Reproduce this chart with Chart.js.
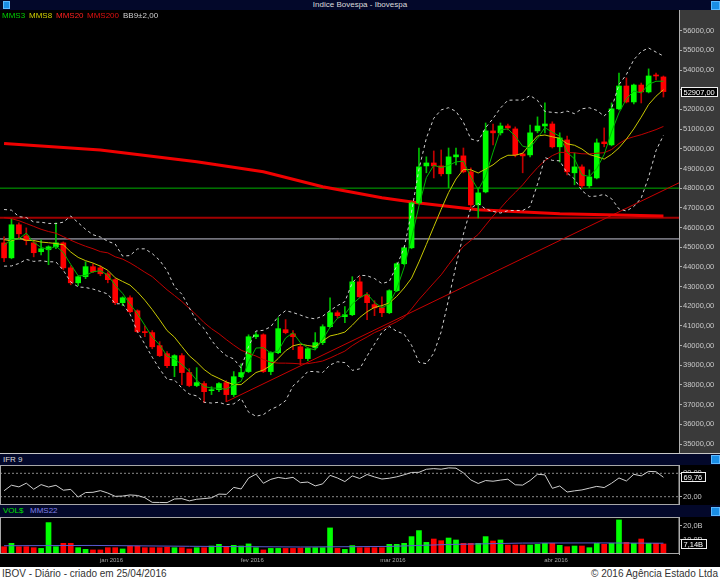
<!DOCTYPE html>
<html>
<head>
<meta charset="utf-8">
<script src="https://cdn.jsdelivr.net/npm/chart.js@4.4.1/dist/chart.umd.min.js"></script>
<style>
body { margin: 0; width: 720px; height: 580px; overflow: hidden; position: relative; background: #000; font-family: 'Liberation Sans', Arial, sans-serif; }
canvas { position: absolute; left: 0; }
.head { position: absolute; left: 0; width: 720px; background: #03082a; color: #dcdcdc; font-size: 8px; }
.head span { position: absolute; }
.icon { position: absolute; width: 7px; height: 7px; background: #1a8ee6; border: 1px solid #5cb8ff; }
.leg { position: absolute; top: 11px; font-size: 8px; line-height: 9px; }
#footer { position: absolute; left: 0; top: 567px; width: 720px; height: 13px; background: #fff; color: #333; font-size: 10px; line-height: 13px; }
</style>
</head>
<body>
<div class="head" style="top:0;height:10px;line-height:10px">
  <div class="icon" style="left:3px;top:1px;width:5px;height:6px"></div>
  <span style="left:0;width:720px;text-align:center">Indice Bovespa - Ibovespa</span>
  <div class="icon" style="left:711px;top:1px"></div>
</div>
<canvas id="main" width="720" height="443" style="top:10px"></canvas>
<div class="leg" style="left:2px;color:#00d000">MMS3</div>
<div class="leg" style="left:29px;color:#d0d000">MMS8</div>
<div class="leg" style="left:56px;color:#ff2020">MMS20</div>
<div class="leg" style="left:87px;color:#e01010">MMS200</div>
<div class="leg" style="left:123px;color:#d0d0d0">BB9±2,00</div>
<div style="position:absolute;left:0;top:453px;width:720px;height:1px;background:#c8c8c8"></div>
<div class="head" style="top:454px;height:11px;line-height:11px">
  <span style="left:3px">IFR 9</span>
  <div class="icon" style="left:711px;top:1px"></div>
</div>
<canvas id="rsi" width="720" height="40" style="top:465px"></canvas>
<div class="head" style="top:505px;height:12px;line-height:12px">
  <span style="left:3px;color:#00e000">VOL$</span>
  <span style="left:30px;color:#8080e8">MMS22</span>
  <div class="icon" style="left:711px;top:2px"></div>
</div>
<canvas id="vol" width="720" height="50" style="top:517px"></canvas>
<div id="footer">
  <span style="position:absolute;left:2px">IBOV - Diário - criado em 25/04/2016</span>
  <span style="position:absolute;right:2px">© 2016 Agência Estado Ltda</span>
</div>
<script>
// sessions shown, 08/12/2015 .. 22/04/2016
const days = [
  '08/12','09/12','10/12','11/12','14/12','15/12','16/12','17/12','18/12','21/12','22/12','23/12','28/12','29/12','30/12',
  '04/01','05/01','06/01','07/01','08/01','11/01','12/01','13/01','14/01','15/01','18/01','19/01','20/01','21/01','22/01','26/01','27/01','28/01','29/01',
  '01/02','02/02','03/02','04/02','05/02','10/02','11/02','12/02','15/02','16/02','17/02','18/02','19/02','22/02','23/02','24/02','25/02','26/02','29/02',
  '01/03','02/03','03/03','04/03','07/03','08/03','09/03','10/03','11/03','14/03','15/03','16/03','17/03','18/03','21/03','22/03','23/03','24/03','28/03','29/03','30/03','31/03',
  '01/04','04/04','05/04','06/04','07/04','08/04','11/04','12/04','13/04','14/04','15/04','18/04','19/04','20/04','22/04'
];
const monthNames = { '01': 'jan 2016', '02': 'fev 2016', '03': 'mar 2016', '04': 'abr 2016' };

const opens = [45220,44460,46140,45580,45220,44770,44870,45020,45220,43950,
  43190,43500,44010,43950,43650,43350,42180,42430,41770,40710,
  40660,40000,39590,38980,39490,38630,37970,38070,37710,37760,
  38120,37510,38420,38680,40450,40550,38680,39640,40810,40600,
  39940,39340,39890,40150,40960,41670,41470,41570,43240,42580,
  42080,41920,41670,42790,44160,44970,47250,49130,49280,49130,
  48730,49590,49640,48830,47150,47810,50910,50810,51160,51010,
  49740,49690,50910,51160,51260,50100,50450,48780,49080,48120,
  48520,50350,50200,52030,53190,52380,53240,52890,53750,53650];
const highs = [45530,46440,46240,45980,45330,45380,45070,46240,45270,44060,
  43550,44260,44160,44060,43750,43400,42480,42530,41820,41010,
  40760,40200,39690,39540,39590,38830,38880,38170,37910,38120,
  38220,38680,39080,40550,40660,40600,39690,41420,41320,40760,
  40050,39890,40660,41060,42430,41770,41980,43500,43500,42690,
  42280,42480,42840,44210,45020,47300,50040,49590,49890,49940,
  50040,50040,50040,49030,48020,51310,51260,51310,51260,51110,
  49790,51210,51620,52330,51370,50810,50650,49790,49180,48930,
  50500,51060,52330,53850,53600,53290,53340,54060,53850,53700];
const lows = [44260,44410,45480,45120,44510,44610,44110,44920,43850,43090,
  43040,43400,43700,43550,43190,42080,42030,41670,40660,40450,
  39840,39440,38880,38420,38020,37910,37910,37100,37510,37660,
  37150,37410,38370,38630,40350,38630,38520,39590,40600,39790,
  39030,39230,39790,40050,40910,41420,41160,41520,42430,41320,
  41520,41470,41620,42740,44110,44920,47200,48780,48520,48620,
  48020,49180,48780,46900,46490,47760,50200,50700,50960,49590,
  48780,49590,50810,50810,50040,49330,48670,48170,48020,48020,
  48470,50100,50150,51970,52330,52280,52330,52840,53500,52630];
const closes = [44460,46140,45680,45330,44720,44920,45020,45220,43950,43190,
  43500,44010,43750,43650,43350,42180,42430,41720,40710,40660,
  39940,39490,38980,39490,38630,37970,38120,37660,37760,38070,
  37510,38420,38630,40450,40550,38680,39640,40860,40660,40450,
  39340,39840,40150,40960,41670,41520,41570,43240,42480,42180,
  41920,41670,42790,44160,44970,47250,49080,49280,49130,48730,
  49590,49690,48830,47150,47760,50910,50810,51160,51060,49690,
  49640,50810,51160,51260,50100,50550,48830,49080,48120,48570,
  50300,50258,52030,53190,52380,53240,52890,53700,53700,52907];
// closes of the 19 sessions before the window, only to start the averages
const closesBefore = [47100,47800,48200,47600,47900,47300,46900,47500,46800,46700,
  46925,46235,46600,44600,46200,44800,45540,45300,45540];

// financial volume, billions of R$
const volumes = [5.2,7.6,5.2,5.2,4.5,4.0,22.4,5.2,7.6,7.6,
  4.5,3.3,2.9,2.9,4.5,4.5,3.6,5.6,5.6,4.5,
  4.5,4.5,4.8,4.5,4.5,3.6,4.5,4.5,5.7,6.9,
  5.2,6.2,5.7,7.2,4.5,2.9,4.0,4.0,4.0,4.0,
  4.2,4.4,4.5,4.5,18.6,4.0,3.3,6.0,4.5,4.5,
  4.5,4.5,6.9,6.9,7.6,12.4,16.7,8.3,10.7,9.5,
  11.4,10.0,7.6,7.6,7.6,12.4,9.3,10.0,6.4,6.4,
  6.4,6.4,6.9,7.6,7.6,6.2,5.2,5.7,5.7,4.5,
  7.6,6.9,7.6,24.3,8.3,7.6,10.7,7.6,7.6,7.14];
// MMS22 of volume at a few sessions
const volumeAvg22 = [[0,5.9],[12,6.1],[25,5.5],[40,5.0],[52,5.4],[60,6.8],[70,7.8],[80,7.9],[89,7.7]];

// MMS200 (session index, value)
const mms200 = [[0,50270],[13,49940],[26,49340],[35,48830],[43,48070],[51,47510],[56,47250],[64,46900],[75,46700],[89,46590]];
const trendLine = [[30,37150],[91.1,48270]];
const levelLines = [[48000,'#00b000',1],[46500,'#a00000',2],[45420,'#c4c4d4',1]];

const priceTicks = [35000,36000,37000,38000,39000,40000,41000,42000,43000,44000,45000,
  46000,47000,48000,49000,50000,51000,52000,53000,54000,55000,56000];
const rsiTicks = [20, 80];
const volumeTicks = [10, 20];

const xMin = -0.55, xMax = 91.1;
const allCloses = closesBefore.concat(closes);
const n0 = closesBefore.length;
const isUp = closes.map((c, i) => c >= opens[i]);

function movingAverage(len) {
  return closes.map((c, i) => {
    let s = 0;
    for (let k = 0; k < len; k++) s += allCloses[n0 + i - k];
    return s / len;
  });
}
const mms3 = movingAverage(3);
const mms8 = movingAverage(8);
const mms20 = movingAverage(20);
const bbMid = movingAverage(9);
const bbUp = [], bbLo = [];
closes.forEach((c, i) => {
  let v = 0;
  for (let k = 0; k < 9; k++) v += Math.pow(allCloses[n0 + i - k] - bbMid[i], 2);
  const sd = Math.sqrt(v / 9);
  bbUp.push(bbMid[i] + 2 * sd);
  bbLo.push(bbMid[i] - 2 * sd);
});
// IFR 9
const rsi = closes.map((c, i) => {
  let g = 0, l = 0;
  for (let k = 0; k < 9; k++) {
    const d = allCloses[n0 + i - k] - allCloses[n0 + i - k - 1];
    if (d > 0) g += d; else l -= d;
  }
  return 100 * g / (g + l);
});

const monthTicks = [];
days.forEach((d, i) => {
  if (i > 0 && d.slice(3) !== days[i - 1].slice(3)) monthTicks.push({ value: i - 0.5, label: monthNames[d.slice(3)] });
});

const fmt2 = v => v.toFixed(2).replace('.', ',');
const series = arr => arr.map((v, i) => ({ x: i, y: v }));
const pairs = arr => arr.map(p => ({ x: p[0], y: p[1] }));

function lineSet(data, color, width, order, dash) {
  return { type: 'line', data: data, borderColor: color, borderWidth: width, borderDash: dash || [],
    pointRadius: 0, fill: false, tension: 0, order: order };
}

function fitRight(s) { s.width = 41; s.paddingTop = 0; s.paddingBottom = 0; }

function rightAxis(min, max, ticks, fmt) {
  return {
    position: 'right', min: min, max: max, bounds: 'data',
    afterBuildTicks: s => { s.ticks = ticks.map(v => ({ value: v })); },
    afterFit: fitRight,
    ticks: { color: '#c8c8c8', font: { size: 7.5 }, padding: 1, callback: fmt },
    grid: { display: true, drawOnChartArea: false, drawTicks: true, tickLength: 3, color: '#b0b0b0' },
    border: { display: true, color: '#b0b0b0' }
  };
}

function valueBox(chart, value, text) {
  const ctx = chart.ctx, area = chart.chartArea;
  const y = Math.round(chart.scales.y.getPixelForValue(value));
  ctx.save();
  ctx.font = '7.5px "Liberation Sans"';
  const w = Math.round(ctx.measureText(text).width + 5);
  const x = area.right + 2;
  ctx.fillStyle = '#000';
  ctx.fillRect(x, y - 5, w, 10);
  ctx.strokeStyle = '#f0f0f0';
  ctx.lineWidth = 1;
  ctx.strokeRect(x + 0.5, y - 4.5, w, 9);
  ctx.fillStyle = '#fff';
  ctx.textBaseline = 'middle';
  ctx.fillText(text, x + 2.5, y + 0.5);
  ctx.restore();
}

function panel(opts) {
  return {
    id: 'panel',
    beforeDraw(chart) {
      const ctx = chart.ctx, area = chart.chartArea;
      ctx.save();
      ctx.fillStyle = '#000';
      ctx.fillRect(0, 0, chart.width, chart.height);
      if (opts.axisFill) {
        ctx.fillStyle = opts.axisFill;
        ctx.fillRect(area.right, 0, chart.width - area.right, chart.height);
      }
      ctx.restore();
    },
    afterDraw(chart) {
      const ctx = chart.ctx, area = chart.chartArea;
      if (opts.frame) {
        ctx.save();
        ctx.strokeStyle = '#a8a8a8';
        ctx.lineWidth = 1;
        ctx.strokeRect(0.5, area.top + 0.5, area.right - 0.5, area.bottom - area.top - 1);
        ctx.restore();
      }
      valueBox(chart, opts.value, opts.text);
    }
  };
}

Chart.defaults.font.family = "'Liberation Sans', Arial, sans-serif";
const common = {
  responsive: false, animation: false, devicePixelRatio: 1,
  layout: { padding: 0, autoPadding: false },
  plugins: { legend: { display: false }, tooltip: { enabled: false } }
};

// price panel
let mainDatasets = [];
levelLines.forEach(l => {
  mainDatasets.push(lineSet([{ x: xMin, y: l[0] }, { x: xMax, y: l[0] }], l[1], l[2], 40));
});
mainDatasets.push(lineSet(pairs(trendLine), '#c80000', 1, 39));
mainDatasets.push(lineSet(pairs(mms200), '#f00000', 3, 38));
mainDatasets.push({
  type: 'bar', data: closes.map((c, i) => ({ x: i, y: [lows[i], highs[i]] })),
  backgroundColor: isUp.map(u => u ? '#00c000' : '#c00000'),
  barThickness: 1, grouped: false, order: 21
});
mainDatasets.push({
  type: 'bar', data: closes.map((c, i) => ({ x: i, y: [opens[i], c] })),
  backgroundColor: isUp.map(u => u ? '#00ff00' : '#ff0000'),
  barThickness: 5, minBarLength: 1, grouped: false, order: 20
});
mainDatasets.push(lineSet(series(mms20), '#c00000', 1, 5));
mainDatasets.push(lineSet(series(bbUp), '#d0d0d0', 1, 4, [3, 3]));
mainDatasets.push(lineSet(series(bbLo), '#d0d0d0', 1, 4, [3, 3]));
mainDatasets.push(lineSet(series(mms8), '#c8c800', 1, 3));
mainDatasets.push(lineSet(series(mms3), '#00b400', 1, 2));

new Chart(document.getElementById('main'), {
  type: 'bar',
  data: { datasets: mainDatasets },
  options: Object.assign({}, common, {
    scales: {
      x: { type: 'linear', display: false, min: xMin, max: xMax, offset: false },
      y: rightAxis(34543, 57052, priceTicks, v => fmt2(v))
    }
  }),
  plugins: [panel({ axisFill: '#3a3a3a', value: closes[closes.length - 1], text: fmt2(closes[closes.length - 1]) })]
});

// IFR panel
new Chart(document.getElementById('rsi'), {
  type: 'line',
  data: {
    datasets: [
      lineSet([{ x: xMin, y: rsiTicks[1] }, { x: xMax, y: rsiTicks[1] }], '#8a8a8a', 1, 5, [2, 2]),
      lineSet([{ x: xMin, y: rsiTicks[0] }, { x: xMax, y: rsiTicks[0] }], '#8a8a8a', 1, 5, [2, 2]),
      lineSet(series(rsi), '#cfcfcf', 1, 1)
    ]
  },
  options: Object.assign({}, common, {
    scales: {
      x: { type: 'linear', display: false, min: xMin, max: xMax, offset: false },
      y: rightAxis(-1.3, 101.3, rsiTicks, v => fmt2(v))
    }
  }),
  plugins: [panel({ frame: true, value: rsi[rsi.length - 1], text: fmt2(rsi[rsi.length - 1]) })]
});

// volume panel
new Chart(document.getElementById('vol'), {
  type: 'bar',
  data: {
    datasets: [
      { type: 'bar', data: series(volumes), backgroundColor: isUp.map(u => u ? '#00ff00' : '#ff0000'),
        barThickness: 5, grouped: false, order: 10 },
      lineSet(pairs(volumeAvg22), '#5a5ad2', 1, 1)
    ]
  },
  options: Object.assign({}, common, {
    scales: {
      x: {
        type: 'linear', min: xMin, max: xMax, offset: false, position: 'bottom',
        afterBuildTicks: s => { s.ticks = monthTicks.map(t => ({ value: t.value })); },
        afterFit: s => { s.height = 13; s.paddingLeft = 0; s.paddingRight = 0; },
        ticks: { color: '#a8a8a8', font: { size: 6 }, padding: 3, maxRotation: 0, autoSkip: false,
          callback: v => { const t = monthTicks.find(m => m.value === v); return t ? t.label : ''; } },
        grid: { display: false, drawTicks: false, tickLength: 0 },
        border: { display: false }
      },
      y: rightAxis(0, 26.4, volumeTicks, v => v.toFixed(1).replace('.', ',') + 'B')
    }
  }),
  plugins: [panel({ frame: true, value: volumes[volumes.length - 1], text: fmt2(volumes[volumes.length - 1]) + 'B' })]
});
</script>
</body>
</html>
